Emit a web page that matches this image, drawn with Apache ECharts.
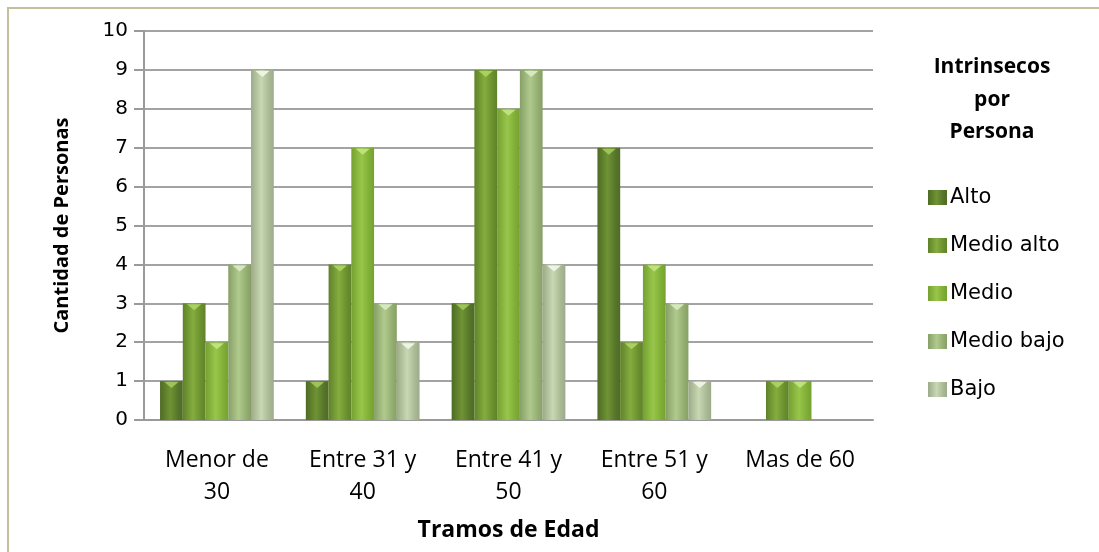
<!DOCTYPE html>
<html>
<head>
<meta charset="utf-8">
<script src="https://cdn.jsdelivr.net/npm/echarts@6/dist/echarts.min.js"></script>
<style>
html, body { margin: 0; padding: 0; background: #fff; }
#main { width: 1099px; height: 552px; }
</style>
</head>
<body>
<div id="main"></div>
<script>
var categories = ['Menor de\n30', 'Entre 31 y\n40', 'Entre 41 y\n50', 'Entre 51 y\n60', 'Mas de 60'];
var seriesNames = ['Alto', 'Medio alto', 'Medio', 'Medio bajo', 'Bajo'];
var alto = [1, 1, 3, 7, 0];
var medioAlto = [3, 4, 9, 2, 1];
var medio = [2, 7, 8, 4, 1];
var medioBajo = [4, 3, 9, 3, 0];
var bajo = [9, 2, 4, 1, 0];
var values = [alto, medioAlto, medio, medioBajo, bajo];
// base, highlight, edge, cap
var colors = [
    ['#56752a', '#6f9334', '#4e6b24', '#9cc458'],
    ['#6a902e', '#84ad3e', '#5f8229', '#a9d160'],
    ['#7fae36', '#98c64a', '#75a131', '#bfe27c'],
    ['#93ae70', '#b0ca8d', '#879f67', '#d6e8bf'],
    ['#a9b995', '#c8d8b2', '#9caa89', '#eef4e4']
];

function grad(c) {
    return new echarts.graphic.LinearGradient(0, 0, 1, 0, [
        { offset: 0, color: c[2] },
        { offset: 0.45, color: c[1] },
        { offset: 0.8, color: c[0] },
        { offset: 1, color: c[2] }
    ]);
}

var dom = document.getElementById('main');
var myChart = echarts.init(dom);
var series = [];
for (var i = 0; i < seriesNames.length; i++) {
    var caps = [];
    for (var j = 0; j < values[i].length; j++) {
        if (values[i][j] > 0) {
            caps.push({ coord: [j, values[i][j]] });
        }
    }
    series.push({
        name: seriesNames[i],
        type: 'bar',
        data: values[i],
        barGap: '0%',
        barCategoryGap: '22%',
        itemStyle: { color: grad(colors[i]) },
        markPoint: {
            symbol: 'triangle',
            symbolRotate: 180,
            symbolSize: [14, 6],
            symbolOffset: [0, 4],
            silent: true,
            label: { show: false },
            itemStyle: { color: colors[i][3] },
            data: caps
        }
    });
}

var option = {
    animation: false,
    color: colors.map(function (c) { return c[0]; }),
    title: {
        text: 'Intrinsecos\npor\nPersona',
        left: 987,
        top: 46,
        textAlign: 'center',
        textStyle: {
            fontFamily: 'Open Sans',
            fontWeight: 'bold',
            fontSize: 21,
            lineHeight: 32.5,
            color: '#000'
        }
    },
    legend: {
        orient: 'vertical',
        left: 923,
        top: 182,
        itemWidth: 19,
        itemHeight: 15,
        itemGap: 27,
        icon: 'rect',
        data: seriesNames,
        textStyle: { fontFamily: 'DejaVu Sans', fontSize: 21, color: '#000', padding: [0, 0, 0, -2] }
    },
    graphic: [{
        type: 'rect',
        shape: { x: 8, y: 8, width: 1200, height: 700 },
        style: { fill: 'none', stroke: '#c7bf98', lineWidth: 2 },
        silent: true
    }],
    grid: { left: 144, right: 226, top: 31, bottom: 132 },
    xAxis: {
        type: 'category',
        data: categories,
        name: 'Tramos de Edad',
        nameLocation: 'middle',
        nameGap: 99,
        nameTextStyle: { fontFamily: 'Open Sans', fontWeight: 'bold', fontSize: 23, color: '#000' },
        axisLine: { lineStyle: { color: '#9a9a9a', width: 2 } },
        axisTick: { show: false },
        axisLabel: { fontFamily: 'Open Sans', fontSize: 23, color: '#000', lineHeight: 32, margin: 24, interval: 0 }
    },
    yAxis: {
        type: 'value',
        min: 0,
        max: 10,
        interval: 1,
        name: 'Cantidad de Personas',
        nameLocation: 'middle',
        nameGap: 72,
        nameTextStyle: { fontFamily: 'Open Sans', fontWeight: 'bold', fontSize: 20, color: '#000' },
        axisLine: { show: true, lineStyle: { color: '#9a9a9a', width: 2 } },
        axisTick: { show: true, length: 10, lineStyle: { color: '#9a9a9a', width: 2 } },
        axisLabel: { fontFamily: 'DejaVu Sans', fontSize: 20, color: '#000', margin: 16 },
        splitLine: { lineStyle: { color: '#a3a3a3', width: 2 } }
    },
    series: series
};
myChart.setOption(option);
</script>
</body>
</html>
